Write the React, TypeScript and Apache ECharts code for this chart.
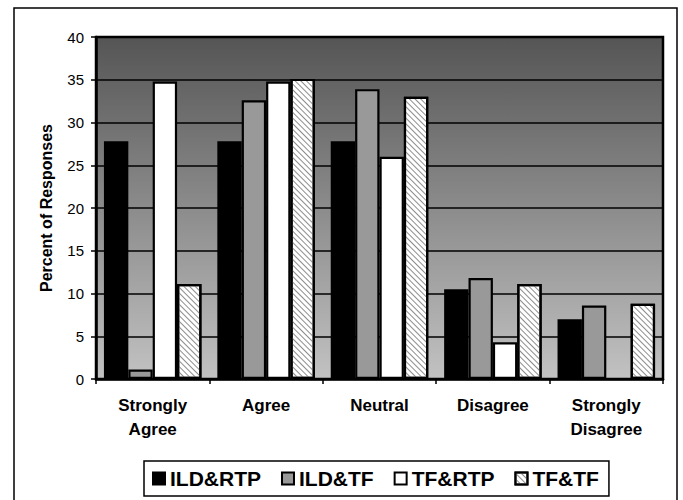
import React, { useEffect, useRef } from "react";
import * as echarts from "echarts";

const categories = ["Strongly\nAgree", "Agree", "Neutral", "Disagree", "Strongly\nDisagree"];
const seriesNames = ["ILD&RTP", "ILD&TF", "TF&RTP", "TF&TF"];
const ildRtp = [27.8, 27.8, 27.8, 10.5, 7.0];
const ildTf = [1.1, 32.6, 33.9, 11.8, 8.6];
const tfRtp = [34.8, 34.8, 26.0, 4.3, 0];
const tfTf = [11.1, 35.1, 33.0, 11.1, 8.8];
const yTicks = { min: 0, max: 40, interval: 5 };

const FONT = "'Liberation Sans', Arial, Helvetica, sans-serif";

export default function App() {
  const ref = useRef<HTMLDivElement>(null);
  useEffect(() => {
    if (!ref.current) return;
    const chart = echarts.init(ref.current, null, { renderer: "svg" });
    const border = { borderColor: "#000", borderWidth: 2.2 };
    const values = [ildRtp, ildTf, tfRtp, tfTf];
    const fills = ["#000000", "#999999", "#ffffff", "#ffffff"];
    chart.setOption({
      animation: false,
      backgroundColor: "#fff",
      textStyle: { fontFamily: FONT, color: "#000" },
      graphic: [
        {
          type: "rect",
          shape: { x: 14, y: 8, width: 663, height: 520 },
          style: { fill: "none", stroke: "#000", lineWidth: 1.5 },
          z: -10,
        },
      ],
      grid: {
        left: 96,
        top: 37,
        right: 20,
        bottom: 121,
        show: true,
        borderColor: "#000",
        borderWidth: 2.5,
        backgroundColor: {
          type: "linear",
          x: 0,
          y: 0,
          x2: 0,
          y2: 1,
          colorStops: [
            { offset: 0, color: "#555555" },
            { offset: 1, color: "#c2c2c2" },
          ],
        },
      },
      legend: {
        left: 144,
        top: 461,
        padding: [7, 10, 7, 8],
        itemWidth: 12,
        itemHeight: 12,
        itemGap: 20,
        icon: "rect",
        borderColor: "#000",
        borderWidth: 1.5,
        textStyle: { fontSize: 21, fontWeight: "bold", color: "#000", fontFamily: FONT },
        data: seriesNames,
      },
      xAxis: {
        type: "category",
        data: categories,
        axisLine: { lineStyle: { color: "#000", width: 2.5 } },
        axisTick: { show: true, length: 5, lineStyle: { color: "#000", width: 1.5 } },
        axisLabel: {
          fontSize: 17,
          fontWeight: "bold",
          color: "#000",
          lineHeight: 24,
          margin: 14,
          fontFamily: FONT,
        },
      },
      yAxis: {
        type: "value",
        min: yTicks.min,
        max: yTicks.max,
        interval: yTicks.interval,
        name: "Percent of Responses",
        nameLocation: "middle",
        nameGap: 42,
        nameTextStyle: { fontSize: 16, fontWeight: "bold", color: "#000", fontFamily: FONT },
        axisLine: { show: true, lineStyle: { color: "#000", width: 2.5 } },
        axisTick: { show: true, length: 5, lineStyle: { color: "#000", width: 1.5 } },
        axisLabel: { fontSize: 15, color: "#000", margin: 12, fontFamily: FONT },
        splitLine: { show: true, lineStyle: { color: "#000", width: 1.5 } },
      },
      series: seriesNames.map((name, i) => ({
        name,
        type: "bar",
        data: values[i],
        barGap: "0%",
        barCategoryGap: "14%",
        itemStyle: {
          color: fills[i],
          ...border,
          ...(i === 3
            ? {
                decal: {
                  symbol: "rect",
                  symbolSize: 1,
                  dashArrayX: [1, 0],
                  dashArrayY: [1, 2.4],
                  rotation: Math.PI / 4,
                  color: "#8c8c8c",
                },
              }
            : {}),
        },
      })),
    });
    return () => chart.dispose();
  }, []);
  return (
    <div
      ref={ref}
      style={{ position: "fixed", left: 0, top: 0, width: 683, height: 500 }}
    />
  );
}
